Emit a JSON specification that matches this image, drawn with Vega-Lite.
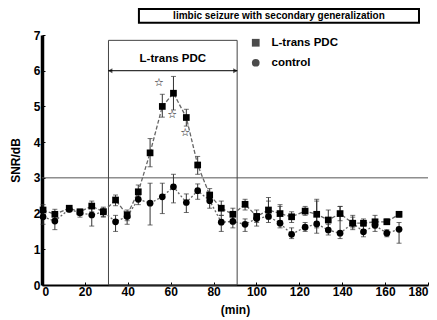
{
  "$schema": "https://vega.github.io/schema/vega-lite/v6.json",
  "autosize": "none",
  "width": 386,
  "height": 250,
  "padding": {"left": 42, "top": 35, "right": 9, "bottom": 35},
  "background": "white",
  "config": {
    "view": {"stroke": null},
    "font": "Liberation Sans",
    "axis": {"grid": false, "labelFont": "Liberation Sans", "labelFontWeight": "bold", "labelFontSize": 12, "labelColor": "black", "titleFont": "Liberation Sans", "titleFontWeight": "bold", "titleFontSize": 12, "titleColor": "black", "domainColor": "black", "tickColor": "black", "tickSize": -3, "labelOverlap": false},
    "axisX": {"domainWidth": 2, "labelPadding": 4, "titlePadding": 7},
    "axisY": {"domainWidth": 3.5, "labelPadding": 5, "titlePadding": 11}
  },
  "datasets": {
    "series": [
      {"t": 0.5, "v": 2.1, "lo": 1.95, "hi": 2.25, "g": "L-trans PDC"},
      {"t": 6, "v": 1.98, "lo": 1.85, "hi": 2.12, "g": "L-trans PDC"},
      {"t": 12.7, "v": 2.15, "lo": 2.05, "hi": 2.2, "g": "L-trans PDC"},
      {"t": 17.7, "v": 2.05, "lo": 1.95, "hi": 2.12, "g": "L-trans PDC"},
      {"t": 23.2, "v": 2.21, "lo": 2.05, "hi": 2.35, "g": "L-trans PDC"},
      {"t": 28.6, "v": 2.05, "lo": 1.92, "hi": 2.18, "g": "L-trans PDC"},
      {"t": 34.3, "v": 2.38, "lo": 2.22, "hi": 2.52, "g": "L-trans PDC"},
      {"t": 39.7, "v": 1.96, "lo": 1.8, "hi": 2.1, "g": "L-trans PDC"},
      {"t": 44.9, "v": 2.61, "lo": 2.4, "hi": 2.8, "g": "L-trans PDC"},
      {"t": 50.4, "v": 3.7, "lo": 3.31, "hi": 4.1, "g": "L-trans PDC"},
      {"t": 56.1, "v": 5.0, "lo": 4.7, "hi": 5.34, "g": "L-trans PDC"},
      {"t": 61.3, "v": 5.37, "lo": 4.9, "hi": 5.84, "g": "L-trans PDC"},
      {"t": 67.3, "v": 4.69, "lo": 4.45, "hi": 4.92, "g": "L-trans PDC"},
      {"t": 72.6, "v": 3.36, "lo": 3.1, "hi": 3.6, "g": "L-trans PDC"},
      {"t": 78.2, "v": 2.52, "lo": 2.35, "hi": 2.7, "g": "L-trans PDC"},
      {"t": 83.6, "v": 2.15, "lo": 1.95, "hi": 2.35, "g": "L-trans PDC"},
      {"t": 89, "v": 1.98, "lo": 1.8, "hi": 2.15, "g": "L-trans PDC"},
      {"t": 94.7, "v": 2.26, "lo": 2.1, "hi": 2.4, "g": "L-trans PDC"},
      {"t": 100.1, "v": 1.92, "lo": 1.75, "hi": 2.1, "g": "L-trans PDC"},
      {"t": 105.6, "v": 2.1, "lo": 1.85, "hi": 2.35, "g": "L-trans PDC"},
      {"t": 111, "v": 2.0, "lo": 1.8, "hi": 2.25, "g": "L-trans PDC"},
      {"t": 116.4, "v": 1.91, "lo": 1.75, "hi": 2.05, "g": "L-trans PDC"},
      {"t": 122.7, "v": 2.07, "lo": 1.95, "hi": 2.2, "g": "L-trans PDC"},
      {"t": 128.1, "v": 1.98, "lo": 1.6, "hi": 2.35, "g": "L-trans PDC"},
      {"t": 133.5, "v": 1.82, "lo": 1.55, "hi": 2.1, "g": "L-trans PDC"},
      {"t": 139, "v": 2.0, "lo": 1.8, "hi": 2.2, "g": "L-trans PDC"},
      {"t": 144.9, "v": 1.73, "lo": 1.6, "hi": 1.95, "g": "L-trans PDC"},
      {"t": 149.9, "v": 1.73, "lo": 1.55, "hi": 1.85, "g": "L-trans PDC"},
      {"t": 155.3, "v": 1.77, "lo": 1.6, "hi": 1.95, "g": "L-trans PDC"},
      {"t": 160.8, "v": 1.77, "lo": 1.7, "hi": 1.85, "g": "L-trans PDC"},
      {"t": 166.5, "v": 1.98, "lo": 1.9, "hi": 2.05, "g": "L-trans PDC"},
      {"t": 0.5, "v": 1.91, "lo": 1.7, "hi": 2.1, "g": "control"},
      {"t": 6, "v": 1.79, "lo": 1.55, "hi": 2.0, "g": "control"},
      {"t": 12.7, "v": 2.12, "lo": 2.05, "hi": 2.2, "g": "control"},
      {"t": 17.7, "v": 2.02, "lo": 1.9, "hi": 2.1, "g": "control"},
      {"t": 23.2, "v": 1.96, "lo": 1.65, "hi": 2.15, "g": "control"},
      {"t": 28.6, "v": 2.05, "lo": 1.9, "hi": 2.15, "g": "control"},
      {"t": 34.3, "v": 1.77, "lo": 1.5, "hi": 1.95, "g": "control"},
      {"t": 39.7, "v": 1.92, "lo": 1.7, "hi": 2.05, "g": "control"},
      {"t": 44.9, "v": 2.4, "lo": 2.25, "hi": 2.5, "g": "control"},
      {"t": 50.4, "v": 2.29, "lo": 1.68, "hi": 2.85, "g": "control"},
      {"t": 56.1, "v": 2.47, "lo": 2.0, "hi": 2.85, "g": "control"},
      {"t": 61.3, "v": 2.75, "lo": 2.3, "hi": 3.1, "g": "control"},
      {"t": 67.3, "v": 2.31, "lo": 2.03, "hi": 2.55, "g": "control"},
      {"t": 72.6, "v": 2.64, "lo": 2.4, "hi": 2.83, "g": "control"},
      {"t": 78.2, "v": 2.36, "lo": 2.15, "hi": 2.5, "g": "control"},
      {"t": 83.6, "v": 1.76, "lo": 1.5, "hi": 1.95, "g": "control"},
      {"t": 89, "v": 1.78, "lo": 1.6, "hi": 1.95, "g": "control"},
      {"t": 94.7, "v": 1.7, "lo": 1.5, "hi": 1.85, "g": "control"},
      {"t": 100.1, "v": 1.86, "lo": 1.65, "hi": 2.0, "g": "control"},
      {"t": 105.6, "v": 1.92, "lo": 1.75, "hi": 2.45, "g": "control"},
      {"t": 111, "v": 1.73, "lo": 1.6, "hi": 2.2, "g": "control"},
      {"t": 116.4, "v": 1.42, "lo": 1.3, "hi": 1.6, "g": "control"},
      {"t": 122.7, "v": 1.62, "lo": 1.5, "hi": 1.75, "g": "control"},
      {"t": 128.1, "v": 1.71, "lo": 1.45, "hi": 2.4, "g": "control"},
      {"t": 133.5, "v": 1.54, "lo": 1.4, "hi": 1.7, "g": "control"},
      {"t": 139, "v": 1.45, "lo": 1.3, "hi": 2.2, "g": "control"},
      {"t": 144.9, "v": 1.73, "lo": 1.55, "hi": 1.9, "g": "control"},
      {"t": 149.9, "v": 1.49, "lo": 1.35, "hi": 1.65, "g": "control"},
      {"t": 155.3, "v": 1.67, "lo": 1.5, "hi": 1.8, "g": "control"},
      {"t": 160.8, "v": 1.45, "lo": 1.35, "hi": 1.55, "g": "control"},
      {"t": 166.5, "v": 1.56, "lo": 1.17, "hi": 1.75, "g": "control"}
    ],
    "stars": [
      {"t": 54.5, "v": 5.65},
      {"t": 60.7, "v": 4.76},
      {"t": 66.8, "v": 4.25}
    ],
    "period": [{"x1": 31, "x2": 91, "y1": 0, "y2": 6.85, "ya": 6.0, "yl": 6.33, "label": "L-trans PDC"}],
    "arrowheads": [{"x": 31.8, "y": 6.0, "s": "triangle-left"}, {"x": 90.2, "y": 6.0, "s": "triangle-right"}],
    "titlebox": [{"x1": 45.2, "x2": 175.8, "y1": 7.34, "y2": 7.73, "xm": 110.5, "ym": 7.535, "label": "limbic seizure with secondary generalization"}]
  },
  "layer": [
    {
      "data": {"values": [{"y": 3}]},
      "mark": {"type": "rule", "color": "#555", "strokeWidth": 1},
      "encoding": {"y": {"field": "y", "type": "quantitative", "title": "SNR/dB", "scale": {"domain": [0, 7], "nice": false}, "axis": {"values": [0, 1, 2, 3, 4, 5, 6, 7]}}}
    },
    {
      "data": {"name": "period"},
      "mark": {"type": "rect", "fill": null, "stroke": "#444", "strokeWidth": 1, "clip": false},
      "encoding": {
        "x": {"field": "x1", "type": "quantitative", "title": "(min)", "scale": {"domain": [0, 180], "nice": false}, "axis": {"values": [0, 20, 40, 60, 80, 100, 120, 140, 160, 180]}},
        "x2": {"field": "x2"},
        "y": {"field": "y1", "type": "quantitative", "title": "SNR/dB", "axis": {"values": [0, 1, 2, 3, 4, 5, 6, 7]}},
        "y2": {"field": "y2"}
      }
    },
    {
      "data": {"name": "period"},
      "mark": {"type": "rule", "color": "black", "strokeWidth": 1},
      "encoding": {
        "x": {"field": "x1", "type": "quantitative", "title": "(min)", "axis": {"values": [0, 20, 40, 60, 80, 100, 120, 140, 160, 180]}},
        "x2": {"field": "x2"},
        "y": {"field": "ya", "type": "quantitative", "title": "SNR/dB", "axis": {"values": [0, 1, 2, 3, 4, 5, 6, 7]}}
      }
    },
    {
      "data": {"name": "arrowheads"},
      "mark": {"type": "point", "filled": true, "color": "black", "size": 25},
      "encoding": {
        "x": {"field": "x", "type": "quantitative", "title": "(min)", "axis": {"values": [0, 20, 40, 60, 80, 100, 120, 140, 160, 180]}},
        "y": {"field": "y", "type": "quantitative", "title": "SNR/dB", "axis": {"values": [0, 1, 2, 3, 4, 5, 6, 7]}},
        "shape": {"field": "s", "type": "nominal", "scale": null}
      }
    },
    {
      "data": {"name": "period"},
      "mark": {"type": "text", "fontWeight": "bold", "fontSize": 11.5, "color": "black", "font": "Liberation Sans"},
      "encoding": {
        "x": {"datum": 61, "type": "quantitative", "title": "(min)", "axis": {"values": [0, 20, 40, 60, 80, 100, 120, 140, 160, 180]}},
        "y": {"field": "yl", "type": "quantitative", "title": "SNR/dB", "axis": {"values": [0, 1, 2, 3, 4, 5, 6, 7]}},
        "text": {"field": "label"}
      }
    },
    {
      "data": {"name": "titlebox"},
      "mark": {"type": "rect", "fill": "white", "stroke": "black", "strokeWidth": 2, "clip": false},
      "encoding": {
        "x": {"field": "x1", "type": "quantitative", "title": "(min)", "axis": {"values": [0, 20, 40, 60, 80, 100, 120, 140, 160, 180]}},
        "x2": {"field": "x2"},
        "y": {"field": "y1", "type": "quantitative", "title": "SNR/dB", "axis": {"values": [0, 1, 2, 3, 4, 5, 6, 7]}},
        "y2": {"field": "y2"}
      }
    },
    {
      "data": {"name": "titlebox"},
      "mark": {"type": "text", "fontWeight": "bold", "fontSize": 10, "color": "black", "font": "Liberation Sans"},
      "encoding": {
        "x": {"field": "xm", "type": "quantitative", "title": "(min)", "axis": {"values": [0, 20, 40, 60, 80, 100, 120, 140, 160, 180]}},
        "y": {"field": "ym", "type": "quantitative", "title": "SNR/dB", "axis": {"values": [0, 1, 2, 3, 4, 5, 6, 7]}},
        "text": {"field": "label"}
      }
    },
    {
      "data": {"name": "series"},
      "mark": {"type": "errorbar", "ticks": {"size": 5, "color": "#333"}, "rule": {"color": "#333"}},
      "encoding": {
        "x": {"field": "t", "type": "quantitative", "title": "(min)", "axis": {"values": [0, 20, 40, 60, 80, 100, 120, 140, 160, 180]}},
        "y": {"field": "lo", "type": "quantitative", "title": "SNR/dB", "axis": {"values": [0, 1, 2, 3, 4, 5, 6, 7]}},
        "y2": {"field": "hi"},
        "detail": {"field": "g"}
      }
    },
    {
      "data": {"name": "series"},
      "mark": {"type": "line", "color": "#666", "strokeWidth": 1.3},
      "encoding": {
        "x": {"field": "t", "type": "quantitative", "title": "(min)", "axis": {"values": [0, 20, 40, 60, 80, 100, 120, 140, 160, 180]}},
        "y": {"field": "v", "type": "quantitative", "title": "SNR/dB", "axis": {"values": [0, 1, 2, 3, 4, 5, 6, 7]}},
        "strokeDash": {"field": "g", "type": "nominal", "scale": {"domain": ["L-trans PDC", "control"], "range": [[4, 2], [2, 2]]}, "legend": null}
      }
    },
    {
      "data": {"name": "series"},
      "mark": {"type": "point", "filled": true, "color": "black", "size": 45, "opacity": 1},
      "encoding": {
        "x": {"field": "t", "type": "quantitative", "title": "(min)", "axis": {"values": [0, 20, 40, 60, 80, 100, 120, 140, 160, 180]}},
        "y": {"field": "v", "type": "quantitative", "title": "SNR/dB", "axis": {"values": [0, 1, 2, 3, 4, 5, 6, 7]}},
        "shape": {
          "field": "g", "type": "nominal",
          "scale": {"domain": ["L-trans PDC", "control"], "range": ["square", "circle"]},
          "legend": {"title": null, "orient": "none", "legendX": 208, "legendY": 2, "labelFontWeight": "bold", "labelFontSize": 11.5, "labelFont": "Liberation Sans", "labelColor": "black", "symbolFillColor": "black", "symbolStrokeColor": "black", "symbolSize": 60, "rowPadding": 5, "labelOffset": 10}
        }
      }
    },
    {
      "data": {"name": "stars"},
      "mark": {"type": "text", "text": "☆", "fontSize": 11, "fontWeight": "bold", "color": "black", "font": "DejaVu Sans"},
      "encoding": {
        "x": {"field": "t", "type": "quantitative", "title": "(min)", "axis": {"values": [0, 20, 40, 60, 80, 100, 120, 140, 160, 180]}},
        "y": {"field": "v", "type": "quantitative", "title": "SNR/dB", "axis": {"values": [0, 1, 2, 3, 4, 5, 6, 7]}}
      }
    }
  ]
}
